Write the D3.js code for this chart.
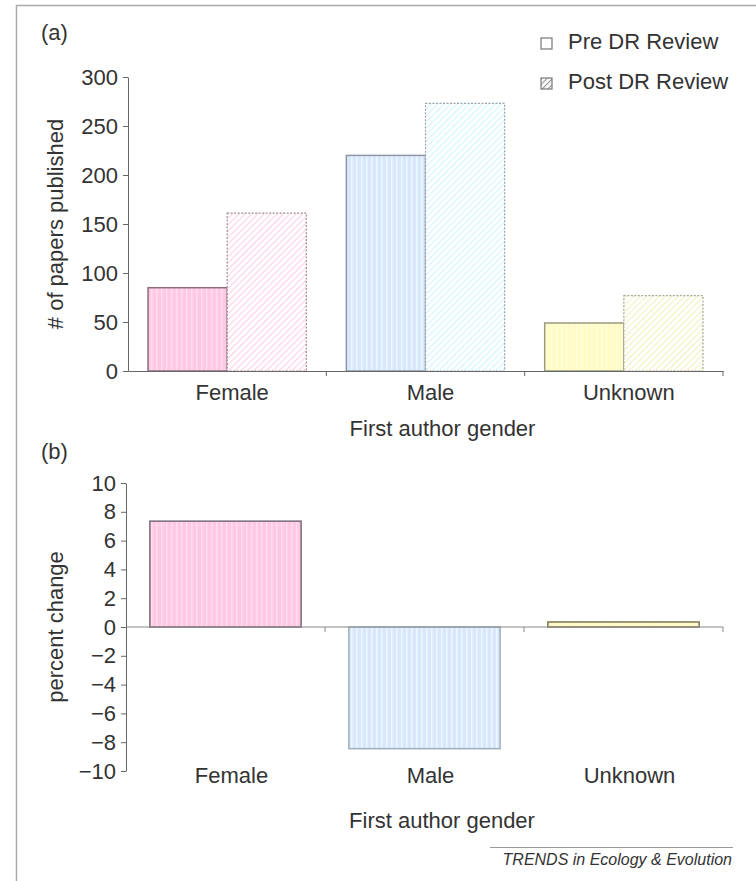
<!DOCTYPE html>
<html>
<head>
<meta charset="utf-8">
<script src="https://cdn.jsdelivr.net/npm/d3@7"></script>
<style>
    body { margin: 0; background: #fff; }
    svg text { font-family: "Liberation Sans", Arial, sans-serif; fill: #333; }
</style>
</head>
<body>
<div id="chart"></div>
<script>
// Data
const categories = ["Female", "Male", "Unknown"];
const series = ["Pre DR Review", "Post DR Review"];
const preValues = [85, 220, 49];
const postValues = [161, 273, 77];
const percentChange = [7.35, -8.45, 0.35];
const countTicks = [0, 50, 100, 150, 200, 250, 300];
const changeTicks = [-10, -8, -6, -4, -2, 0, 2, 4, 6, 8, 10];

const width = 756, height = 881;
const fontSize = 22;

// per-category colours
const preFill = ["#ffc9e4", "#dce6fb", "#fffbc4"];
const preStripe = ["#ffdcee", "#e6faff", "#fffddc"];
const preStroke = ["#8a6f7c", "#8e96a8", "#9c9a80"];
const postHatch = ["#ffd3e8", "#d2f6fc", "#f5f0c2"];
const postStroke = ["#a08c96", "#9aa2aa", "#aaa690"];
const changeStroke = ["#7a6a75", "#9fb0c0", "#7d7650"];

const svg = d3.select("#chart").append("svg")
    .attr("width", width)
    .attr("height", height);

const defs = svg.append("defs");

function stripePattern(id, base, line) {
    const p = defs.append("pattern").attr("id", id)
        .attr("patternUnits", "userSpaceOnUse")
        .attr("width", 5).attr("height", 5);
    p.append("rect").attr("width", 5).attr("height", 5).attr("fill", base);
    p.append("rect").attr("x", 1).attr("width", 1.5).attr("height", 5).attr("fill", line);
}
function hatchPattern(id, line, size, lw) {
    const p = defs.append("pattern").attr("id", id)
        .attr("patternUnits", "userSpaceOnUse")
        .attr("width", size).attr("height", size)
        .attr("patternTransform", "rotate(45)");
    p.append("rect").attr("width", size).attr("height", size).attr("fill", "#fff");
    p.append("rect").attr("width", lw).attr("height", size).attr("fill", line);
}
categories.forEach((c, i) => {
    stripePattern("pre" + i, preFill[i], preStripe[i]);
    hatchPattern("post" + i, postHatch[i], 4.5, 1.2);
});
hatchPattern("legendHatch", "#999", 4, 1.2);

// frame
svg.append("line").attr("x1", 16).attr("x2", width).attr("y1", 5.5).attr("y2", 5.5)
    .attr("stroke", "#aaa").attr("stroke-width", 1.5);
svg.append("line").attr("x1", 16.5).attr("x2", 16.5).attr("y1", 5).attr("y2", height)
    .attr("stroke", "#aaa").attr("stroke-width", 1.5);

function styleAxis(g) {
    g.selectAll("path, line").attr("stroke", "#666");
    g.selectAll("text").style("font-size", fontSize + "px").attr("fill", "#333");
}

// ---------- Panel (a) ----------
const xA = d3.scaleBand().domain(categories).range([128, 723]);
const xSeries = d3.scaleBand().domain(series).range([0, xA.bandwidth()]).paddingOuter(0.253);
const yA = d3.scaleLinear().domain([0, 300]).range([371, 77]);

svg.append("text").attr("x", 41).attr("y", 40).style("font-size", fontSize + "px").text("(a)");

const groupedData = categories.flatMap((c, i) => [
    { cat: c, idx: i, s: series[0], v: preValues[i] },
    { cat: c, idx: i, s: series[1], v: postValues[i] }
]);

svg.append("g").selectAll("rect")
    .data(groupedData)
    .enter()
    .append("rect")
    .attr("x", d => xA(d.cat) + xSeries(d.s))
    .attr("y", d => yA(d.v))
    .attr("width", xSeries.bandwidth())
    .attr("height", d => yA(0) - yA(d.v))
    .attr("fill", d => d.s === series[0] ? `url(#pre${d.idx})` : `url(#post${d.idx})`)
    .attr("stroke", d => d.s === series[0] ? preStroke[d.idx] : postStroke[d.idx])
    .attr("stroke-width", d => d.s === series[0] ? 1.5 : 1.2)
    .attr("stroke-dasharray", d => d.s === series[0] ? null : "2,1.5");

svg.append("g")
    .attr("transform", "translate(128,0)")
    .call(d3.axisLeft(yA).tickValues(countTicks).tickSize(5).tickSizeOuter(0).tickPadding(5))
    .call(styleAxis);

const xAxisA = svg.append("g")
    .attr("transform", `translate(0,${yA(0)})`)
    .call(d3.axisBottom(xA).tickSize(0).tickSizeOuter(0).tickPadding(13))
    .call(styleAxis);
xAxisA.selectAll("text").attr("dx", 5);
xAxisA.selectAll(".boundary")
    .data(categories)
    .enter().append("line")
    .attr("class", "boundary")
    .attr("x1", c => xA(c) + xA.bandwidth()).attr("x2", c => xA(c) + xA.bandwidth())
    .attr("y1", 0).attr("y2", 5)
    .attr("stroke", "#666");

svg.append("text")
    .attr("x", (xA.range()[0] + xA.range()[1]) / 2 + 17)
    .attr("y", 436)
    .attr("text-anchor", "middle")
    .style("font-size", fontSize + "px")
    .text("First author gender");

svg.append("text")
    .attr("transform", `translate(63,${(yA(0) + yA(300)) / 2}) rotate(-90)`)
    .attr("text-anchor", "middle")
    .style("font-size", fontSize + "px")
    .text("# of papers published");

// legend
const legend = svg.append("g").selectAll("g")
    .data(series)
    .enter().append("g")
    .attr("transform", (d, i) => `translate(541,${38 + i * 40})`);
legend.append("rect")
    .attr("width", 11).attr("height", 11)
    .attr("fill", (d, i) => i === 0 ? "#fff" : "url(#legendHatch)")
    .attr("stroke", "#777").attr("stroke-width", 1.2);
legend.append("text")
    .attr("x", 27).attr("y", 11)
    .style("font-size", fontSize + "px")
    .text(d => d);

// ---------- Panel (b) ----------
const xB = d3.scaleBand().domain(categories).range([126, 723]).paddingInner(0.24).paddingOuter(0.12);
const yB = d3.scaleLinear().domain([-10, 10]).range([771, 483]);

svg.append("text").attr("x", 41).attr("y", 459).style("font-size", fontSize + "px").text("(b)");

svg.append("g").selectAll("rect")
    .data(percentChange)
    .enter()
    .append("rect")
    .attr("x", (d, i) => xB(categories[i]))
    .attr("y", d => yB(Math.max(0, d)))
    .attr("width", xB.bandwidth())
    .attr("height", d => Math.abs(yB(d) - yB(0)))
    .attr("fill", (d, i) => `url(#pre${i})`)
    .attr("stroke", (d, i) => changeStroke[i])
    .attr("stroke-width", 1.5);

svg.append("g")
    .attr("transform", "translate(126,0)")
    .call(d3.axisLeft(yB).tickValues(changeTicks).tickSize(5).tickSizeOuter(0).tickPadding(5)
        .tickFormat(d => d < 0 ? "\u2212" + Math.abs(d) : d))
    .call(styleAxis);

const zeroLine = svg.append("g")
    .attr("transform", `translate(0,${yB(0)})`);
zeroLine.append("line")
    .attr("x1", xB.range()[0]).attr("x2", xB.range()[1])
    .attr("stroke", "#888");
zeroLine.selectAll(".boundary")
    .data(categories)
    .enter().append("line")
    .attr("class", "boundary")
    .attr("x1", c => xB(c) + xB.bandwidth() + xB.step() * xB.paddingInner() / 2)
    .attr("x2", c => xB(c) + xB.bandwidth() + xB.step() * xB.paddingInner() / 2)
    .attr("y1", 0).attr("y2", 5)
    .attr("stroke", "#888");

svg.append("g").selectAll(".catLabel")
    .data(categories)
    .enter().append("text")
    .attr("class", "catLabel")
    .attr("x", c => xB(c) + xB.bandwidth() / 2 + 6)
    .attr("y", 783)
    .attr("text-anchor", "middle")
    .style("font-size", fontSize + "px")
    .text(c => c);

svg.append("text")
    .attr("x", 442)
    .attr("y", 828)
    .attr("text-anchor", "middle")
    .style("font-size", fontSize + "px")
    .text("First author gender");

svg.append("text")
    .attr("transform", `translate(63,${yB(0)}) rotate(-90)`)
    .attr("text-anchor", "middle")
    .style("font-size", fontSize + "px")
    .text("percent change");

// footer
svg.append("line").attr("x1", 490).attr("x2", 733).attr("y1", 847.5).attr("y2", 847.5)
    .attr("stroke", "#999");
svg.append("text")
    .attr("x", 732).attr("y", 865)
    .attr("text-anchor", "end")
    .style("font-size", "16px")
    .style("font-style", "italic")
    .attr("fill", "#444")
    .text("TRENDS in Ecology & Evolution");
</script>
</body>
</html>
